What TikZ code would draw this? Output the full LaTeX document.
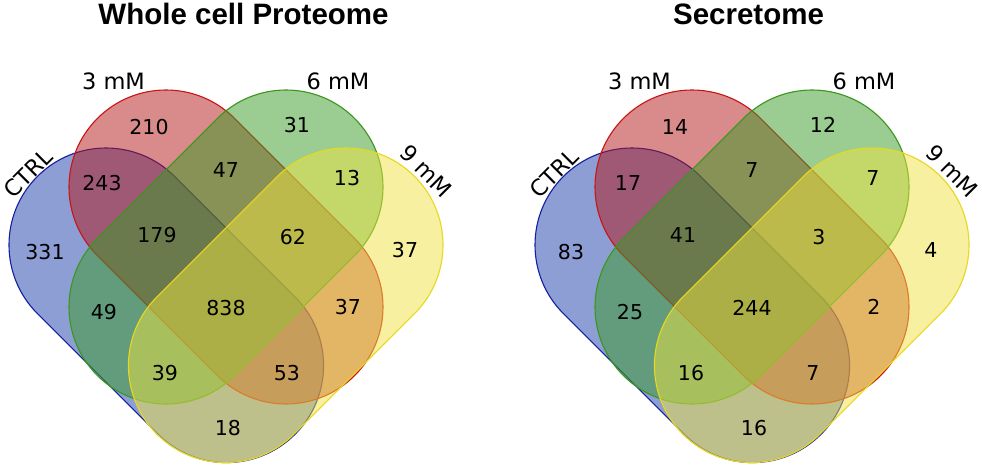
\documentclass[tikz,border=0pt]{standalone}
\usepackage{fontspec}
\newfontfamily\dvfont{DejaVu Sans}
\newfontfamily\libfont{Liberation Sans}
\definecolor{cblue}{RGB}{28,62,172}
\definecolor{bblue}{RGB}{20,30,160}
\definecolor{cred}{RGB}{180,22,22}
\definecolor{bred}{RGB}{200,20,20}
\definecolor{cgreen}{RGB}{56,155,36}
\definecolor{bgreen}{RGB}{60,150,30}
\definecolor{cyellow}{RGB}{238,226,66}
\definecolor{byellow}{RGB}{232,216,30}
\tikzset{
  setblue/.style={fill=cblue, draw=bblue, fill opacity=0.5, line width=1.1pt},
  setred/.style={fill=cred, draw=bred, fill opacity=0.5, line width=1.1pt},
  setgreen/.style={fill=cgreen, draw=bgreen, fill opacity=0.5, line width=1.1pt},
  setyellow/.style={fill=cyellow, draw=byellow, fill opacity=0.5, line width=1.1pt},
  num/.style={font=\dvfont\fontsize{20.5}{24}\selectfont, inner sep=0pt},
  lab/.style={font=\dvfont\fontsize{22.5}{26}\selectfont, inner sep=0pt},
  ttl/.style={font=\libfont\bfseries\fontsize{29.5}{34}\selectfont, inner sep=0pt, anchor=base},
}
\newcommand\vcapsule[5]{%
  \begin{scope}[shift={(#2,#3)}, rotate=#4]
    \path[#1] (0,97) -- (#5,97) arc[start angle=90,end angle=-90,radius=97]
      -- (0,-97) arc[start angle=270,end angle=90,radius=97] -- cycle;
  \end{scope}}
\newcommand\vennshapes{%
  \vcapsule{setblue}{106}{245}{-45}{170.5}
  \vcapsule{setred}{166}{187}{-45}{169.7}
  \vcapsule{setgreen}{286}{187}{-135}{169.7}
  \vcapsule{setyellow}{346}{245}{-135}{170.5}
  \node[lab] (l3) at (113.5,81.5) {3 mM};
  \node[lab] (l6) at (338,81.5) {6 mM};
  \node[lab, rotate=45] (lc) at (28,173) {CTRL};
  \node[lab, rotate=-45] (l9) at (426,171) {9 mM};
}
\begin{document}
\begin{tikzpicture}[x=1pt,y=-1pt]
\useasboundingbox (0,0) rectangle (982,467);
\fill[white] (0,0) rectangle (982,467);
\node[ttl] (t1) at (243.5,24) {Whole cell Proteome};
\node[ttl] (t2) at (748.5,24) {Secretome};
% Whole cell proteome
\begin{scope}
  \vennshapes
  \node[num] (a1) at (149,127) {210};
  \node[num] (a2) at (297,125) {31};
  \node[num] (a3) at (102,183) {243};
  \node[num] (a4) at (226,170) {47};
  \node[num] (a5) at (347,178) {13};
  \node[num] (a6) at (45,252) {331};
  \node[num] (a7) at (157,235) {179};
  \node[num] (a8) at (293,237) {62};
  \node[num] (a9) at (405,250) {37};
  \node[num] (a10) at (104,312) {49};
  \node[num] (a11) at (226,308) {838};
  \node[num] (a12) at (348,307) {37};
  \node[num] (a13) at (165,373) {39};
  \node[num] (a14) at (287,373) {53};
  \node[num] (a15) at (228,428) {18};
\end{scope}
% Secretome
\begin{scope}[xshift=526pt]
  \vennshapes
  \node[num] (b1) at (149,127) {14};
  \node[num] (b2) at (297,125) {12};
  \node[num] (b3) at (102,183) {17};
  \node[num] (b4) at (226,170) {7};
  \node[num] (b5) at (347,178) {7};
  \node[num] (b6) at (45,252) {83};
  \node[num] (b7) at (157,235) {41};
  \node[num] (b8) at (293,237) {3};
  \node[num] (b9) at (405,250) {4};
  \node[num] (b10) at (104,312) {25};
  \node[num] (b11) at (226,308) {244};
  \node[num] (b12) at (348,307) {2};
  \node[num] (b13) at (165,373) {16};
  \node[num] (b14) at (287,373) {7};
  \node[num] (b15) at (228,428) {16};
\end{scope}
\end{tikzpicture}
\end{document}
